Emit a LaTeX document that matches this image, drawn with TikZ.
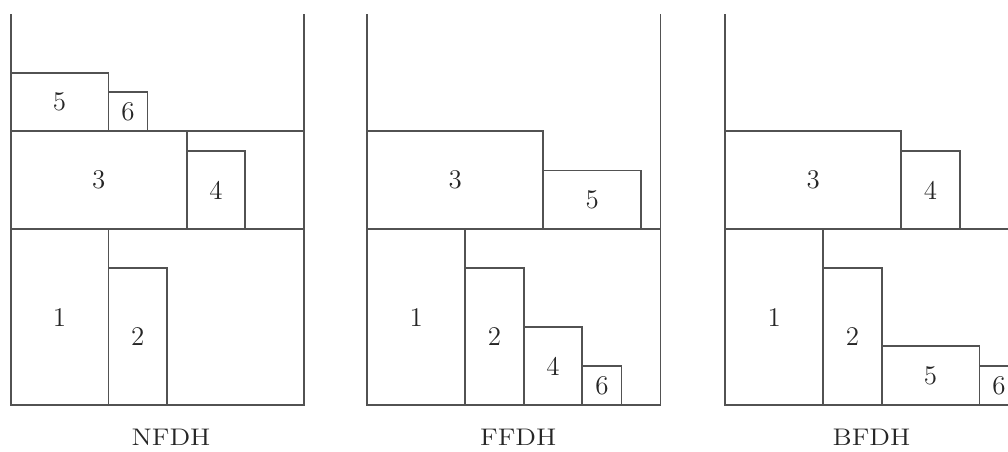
\documentclass[tikz,border=0pt]{standalone}
\usepackage{graphicx}
\tikzset{
  binline/.style={draw=black!68, line width=0.9pt},
  item/.style={binline, rectangle, anchor=south west, inner sep=0pt, outer sep=0pt,
    font=\fontsize{13.5}{16}\selectfont, text=black!85},
  box/.style 2 args={item, minimum width=#1*19.55pt, minimum height=#2*19.55pt},
  caption/.style={anchor=base, inner sep=0pt, font=\fontsize{12}{14}\selectfont, text=black!85},
}
\begin{document}
\begin{tikzpicture}[x=19.55pt, y=19.55pt, line join=miter]
  \useasboundingbox (0,0) rectangle (25.78,11.535);
  \clip (0,0) rectangle (25.78,11.535);

  % NFDH
  \begin{scope}[shift={(0.274,1.176)}]
    \coordinate (a-tl) at (0,10);
    \coordinate (a-bl) at (0,0);
    \coordinate (a-br) at (7.5,0);
    \coordinate (a-tr) at (7.5,10);
    \draw[binline] (a-tl) -- (a-bl) -- (a-br) -- (a-tr);
    \coordinate (a-s1l) at (0,4.5);
    \coordinate (a-s1r) at (7.5,4.5);
    \coordinate (a-s2l) at (0,7);
    \coordinate (a-s2r) at (7.5,7);
    \draw[binline] (a-s1l) -- (a-s1r);
    \draw[binline] (a-s2l) -- (a-s2r);
    \node[box={2.5}{4.5}] (a1) at (0,0) {1};
    \node[box={1.5}{3.5}] (a2) at (2.5,0) {2};
    \node[box={4.5}{2.5}] (a3) at (0,4.5) {3};
    \node[box={1.5}{2}] (a4) at (4.5,4.5) {4};
    \node[box={2.5}{1.5}] (a5) at (0,7) {5};
    \node[box={1}{1}] (a6) at (2.5,7) {6};
    \node[caption] (alabel) at (4.1,-1.023) {\scalebox{1.15}[1]{NFDH}};
  \end{scope}

  % FFDH
  \begin{scope}[shift={(9.394,1.176)}]
    \coordinate (b-tl) at (0,10);
    \coordinate (b-bl) at (0,0);
    \coordinate (b-br) at (7.5,0);
    \coordinate (b-tr) at (7.5,10);
    \draw[binline] (b-tl) -- (b-bl) -- (b-br) -- (b-tr);
    \coordinate (b-s1l) at (0,4.5);
    \coordinate (b-s1r) at (7.5,4.5);
    \draw[binline] (b-s1l) -- (b-s1r);
    \node[box={2.5}{4.5}] (b1) at (0,0) {1};
    \node[box={1.5}{3.5}] (b2) at (2.5,0) {2};
    \node[box={1.5}{2}] (b4) at (4,0) {4};
    \node[box={1}{1}] (b6) at (5.5,0) {6};
    \node[box={4.5}{2.5}] (b3) at (0,4.5) {3};
    \node[box={2.5}{1.5}] (b5) at (4.5,4.5) {5};
    \node[caption] (blabel) at (3.86,-1.023) {\scalebox{1.15}[1]{FFDH}};
  \end{scope}

  % BFDH
  \begin{scope}[shift={(18.55,1.176)}]
    \coordinate (c-tl) at (0,10);
    \coordinate (c-bl) at (0,0);
    \coordinate (c-br) at (7.5,0);
    \coordinate (c-tr) at (7.5,10);
    \draw[binline] (c-tl) -- (c-bl) -- (c-br) -- (c-tr);
    \coordinate (c-s1l) at (0,4.5);
    \coordinate (c-s1r) at (7.5,4.5);
    \draw[binline] (c-s1l) -- (c-s1r);
    \node[box={2.5}{4.5}] (c1) at (0,0) {1};
    \node[box={1.5}{3.5}] (c2) at (2.5,0) {2};
    \node[box={2.5}{1.5}] (c5) at (4,0) {5};
    \node[box={1}{1}] (c6) at (6.5,0) {6};
    \node[box={4.5}{2.5}] (c3) at (0,4.5) {3};
    \node[box={1.5}{2}] (c4) at (4.5,4.5) {4};
    \node[caption] (clabel) at (3.74,-1.023) {\scalebox{1.15}[1]{BFDH}};
  \end{scope}
\end{tikzpicture}
\end{document}
